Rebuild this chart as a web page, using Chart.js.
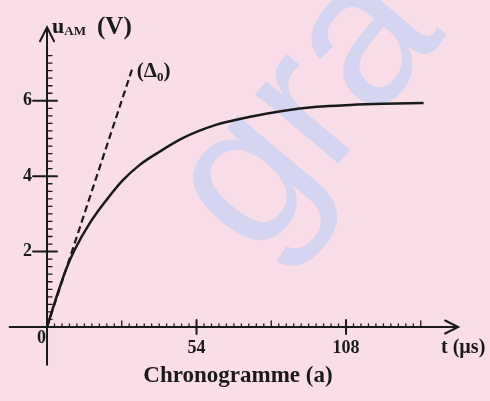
<!DOCTYPE html>
<html lang="fr">
<head>
<meta charset="utf-8">
<title>Chronogramme (a)</title>
<script src="https://cdn.jsdelivr.net/npm/chart.js"></script>
<style>
  html, body { margin: 0; padding: 0; background: #f9dde8; }
  #wrap { width: 490px; height: 401px; }
</style>
</head>
<body>
<div id="wrap"><canvas id="chrono" width="490" height="401"></canvas></div>
<script>
// t (µs) et u_AM (V)
const temps   = [0, 3, 7, 10, 15.5, 21.5, 27.5, 33.5, 40, 49, 61, 73, 85, 97.5, 109.5, 121.5, 136];
const tension = [0, 0.7, 1.55, 2.05, 2.76, 3.37, 3.9, 4.3, 4.62, 5.01, 5.36, 5.57, 5.73, 5.84, 5.89, 5.92, 5.94];

// tangente (Δ0) à l'origine
const tangenteT = [0, 31];
const tangenteU = [0, 6.9];

// graduations
const ticksT = [54, 108];
const ticksU = [2, 4, 6];

const ink = '#1a1a1a';
function serif(size) { return 'bold ' + size + 'px "Liberation Serif", "Times New Roman", serif'; }

// fond rose + filigrane
const fond = {
  id: 'fond',
  beforeDraw(chart) {
    const ctx = chart.ctx;
    ctx.save();
    ctx.fillStyle = '#f9dde8';
    ctx.fillRect(0, 0, chart.width, chart.height);
    ctx.translate(308, 112);
    ctx.rotate(-50 * Math.PI / 180);
    ctx.fillStyle = '#d5d4f1';
    ctx.font = '205px "Liberation Sans", sans-serif';
    ctx.textAlign = 'center';
    ctx.textBaseline = 'middle';
    ctx.fillText('gra', 0, 0);
    ctx.restore();
  }
};

// axes avec flèches et graduations
const axes = {
  id: 'axes',
  beforeDatasetsDraw(chart) {
    const { ctx, scales: { x, y } } = chart;
    const x0 = x.getPixelForValue(0), y0 = y.getPixelForValue(0);
    const xEnd = x.getPixelForValue(148.5), yEnd = y.getPixelForValue(7.95);
    ctx.save();
    ctx.strokeStyle = ink;
    ctx.lineCap = 'round';
    ctx.lineWidth = 2;
    ctx.beginPath();
    ctx.moveTo(x.getPixelForValue(-13.5), y0);
    ctx.lineTo(xEnd, y0);
    ctx.moveTo(x0, y.getPixelForValue(-1));
    ctx.lineTo(x0, yEnd);
    // flèches
    ctx.moveTo(xEnd - 13, y0 - 6.5);
    ctx.lineTo(xEnd, y0);
    ctx.lineTo(xEnd - 13, y0 + 6.5);
    ctx.moveTo(x0 - 7, yEnd + 14);
    ctx.lineTo(x0, yEnd);
    ctx.lineTo(x0 + 7, yEnd + 14);
    ctx.stroke();

    // petites graduations sur t (pas 2,7 µs)
    ctx.lineWidth = 1.3;
    ctx.beginPath();
    for (let i = 1; i <= 50; i++) {
      if (i % 20 === 0) continue;
      const px = x.getPixelForValue(i * 2.7);
      const len = i % 10 === 0 ? 6 : 3;
      ctx.moveTo(px, y0);
      ctx.lineTo(px, y0 - len);
    }
    // petites graduations sur u (pas 0,2 V)
    for (let i = 1; i <= 36; i++) {
      if (i % 10 === 0) continue;
      const py = y.getPixelForValue(i * 0.2);
      ctx.moveTo(x0, py);
      ctx.lineTo(x0 + 5, py);
    }
    ctx.stroke();

    // graduations principales
    ctx.lineWidth = 2;
    ctx.beginPath();
    ticksT.forEach(t => {
      const px = x.getPixelForValue(t);
      ctx.moveTo(px, y0 - 7);
      ctx.lineTo(px, y0 + 7);
    });
    ticksU.forEach(u => {
      const py = y.getPixelForValue(u);
      ctx.moveTo(x0 - 14, py);
      ctx.lineTo(x0 + 10, py);
    });
    ctx.stroke();
    ctx.restore();
  },
  afterDraw(chart) {
    const { ctx, scales: { x, y } } = chart;
    const x0 = x.getPixelForValue(0), y0 = y.getPixelForValue(0);
    ctx.save();
    ctx.fillStyle = ink;
    ctx.font = serif(18);
    ctx.textBaseline = 'middle';
    ctx.textAlign = 'right';
    ticksU.forEach(u => ctx.fillText(String(u), x0 - 15, y.getPixelForValue(u)));
    ctx.fillText('0', x0 - 1, y0 + 11);
    ctx.textAlign = 'center';
    ctx.textBaseline = 'alphabetic';
    ticksT.forEach(t => ctx.fillText(String(t), x.getPixelForValue(t), y0 + 26));

    // unité de t
    ctx.textAlign = 'left';
    ctx.font = serif(20);
    ctx.fillText('t (µs)', 441, y0 + 26);

    // titre de l'axe u
    let cx = x0 + 5;
    const base = 33;
    ctx.font = serif(22);
    ctx.fillText('u', cx, base);
    cx += ctx.measureText('u').width;
    ctx.font = serif(13);
    ctx.fillText('AM', cx, base + 2);
    ctx.font = serif(25);
    ctx.fillText('(V)', 97, base + 1);

    // étiquette de la tangente
    const tx = x.getPixelForValue(tangenteT[1]) + 4;
    const ty = y.getPixelForValue(tangenteU[1]) + 10;
    cx = tx;
    ctx.font = serif(21);
    ctx.fillText('(Δ', cx, ty);
    cx += ctx.measureText('(Δ').width;
    ctx.font = serif(13);
    ctx.fillText('0', cx, ty + 4);
    cx += ctx.measureText('0').width;
    ctx.font = serif(21);
    ctx.fillText(')', cx, ty);

    // titre
    ctx.textAlign = 'center';
    ctx.font = serif(23);
    ctx.fillText('Chronogramme (a)', 238, 382);
    ctx.restore();
  }
};

new Chart(document.getElementById('chrono'), {
  type: 'scatter',
  data: {
    datasets: [{
      label: 'u_AM',
      data: temps.map((t, i) => ({ x: t, y: tension[i] })),
      showLine: true,
      borderColor: ink,
      borderWidth: 2.5,
      pointRadius: 0,
      cubicInterpolationMode: 'monotone'
    }, {
      label: '(Δ0)',
      data: tangenteT.map((t, i) => ({ x: t, y: tangenteU[i] })),
      showLine: true,
      borderColor: ink,
      borderWidth: 2.2,
      borderDash: [7, 4],
      pointRadius: 0
    }]
  },
  options: {
    responsive: false,
    animation: false,
    layout: { padding: 0 },
    plugins: {
      legend: { display: false },
      tooltip: { enabled: false }
    },
    scales: {
      x: { type: 'linear', min: -16.98, max: 160.0, display: false },
      y: { type: 'linear', min: -1.963, max: 8.674, display: false }
    }
  },
  plugins: [fond, axes]
});
</script>
</body>
</html>
